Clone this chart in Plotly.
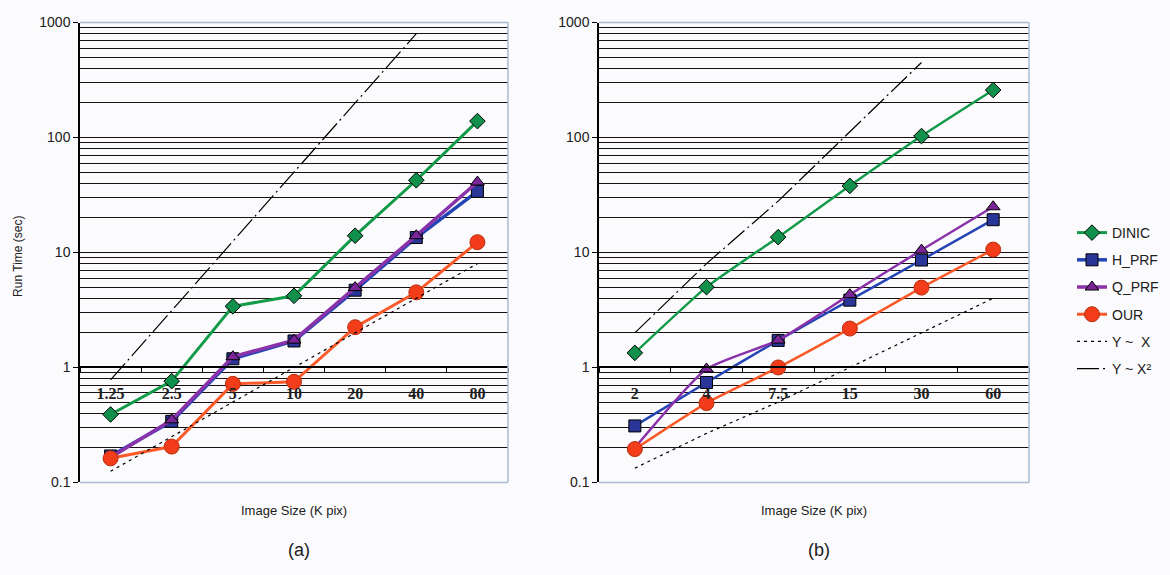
import plotly.graph_objects as go

# ---------------- data ----------------
sizes_a = ['1.25', '2.5', '5', '10', '20', '40', '80']
dinic_a = [0.39, 0.76, 3.4, 4.2, 14.0, 42.5, 139]
hprf_a = [0.17, 0.34, 1.19, 1.70, 4.7, 13.5, 34]
qprf_a = [0.165, 0.35, 1.24, 1.73, 4.95, 14.0, 41]
our_a = [0.162, 0.205, 0.72, 0.75, 2.24, 4.5, 12.3]
lin_a = [0.125, 0.25, 0.5, 1, 2, 4, 8]
quad_a = [0.78, 3.1, 12.5, 50, 200, 800, None]

sizes_b = ['2', '4', '7.5', '15', '30', '60']
dinic_b = [1.34, 5.0, 13.6, 38, 103, 259]
hprf_b = [0.31, 0.74, 1.72, 3.85, 8.6, 19.3]
qprf_b = [0.20, 0.97, 1.73, 4.3, 10.5, 25]
our_b = [0.195, 0.49, 1.0, 2.18, 4.95, 10.6]
lin_b = [0.133, 0.267, 0.5, 1, 2, 4]
quad_b = [2, 8, 28, 112, 450, None]

y_tickvals = [0.1, 1, 10, 100, 1000]
y_ticktext = ['0.1', '1', '10', '100', '1000']
y_minor = [m * d for d in (0.1, 1, 10, 100) for m in range(2, 10)] + [1, 10, 100]

names = ['DINIC', 'H_PRF', 'Q_PRF', 'OUR', 'Y ~\u00a0\u00a0X', 'Y ~ X\u00b2']

# ---------------- styles ----------------
W, H = 1170, 575
styles = [
    dict(line=dict(color='#129a48', width=3),
         marker=dict(symbol='diamond', size=12, color='#10904a', line=dict(color='black', width=1))),
    dict(line=dict(color='#2545b5', width=3.5),
         marker=dict(symbol='square', size=12, color='#2a3598', line=dict(color='black', width=1))),
    dict(line=dict(color='#8a32aa', width=3.5),
         marker=dict(symbol='triangle-up', size=12, color='#7a2698', line=dict(color='black', width=1))),
    dict(line=dict(color='#fa5a2a', width=3),
         marker=dict(symbol='circle', size=15, color='#f23c1a', line=dict(color='#b83010', width=1))),
    dict(line=dict(color='black', width=1.2, dash='3px,4px')),
    dict(line=dict(color='black', width=1.2, dash='22px,4px,2px,4px')),
]

fig = go.Figure()

panels = [
    (sizes_a, [dinic_a, hprf_a, qprf_a, our_a, lin_a, quad_a], 'x', 'y', True, 'linear'),
    (sizes_b, [dinic_b, hprf_b, qprf_b, our_b, lin_b, quad_b], 'x2', 'y2', False, 'spline'),
]
for cats, series, xa, ya, show, shape in panels:
    for i, (nm, vals) in enumerate(zip(names, series)):
        st = styles[i]
        mode = 'lines+markers' if 'marker' in st else 'lines'
        line = dict(st['line'])
        if shape == 'spline' and i < 4:
            line['width'] = 2.5
            line['shape'] = 'spline'
            line['smoothing'] = 0.5
        fig.add_trace(go.Scatter(
            x=cats, y=vals, name=nm, mode=mode, line=line,
            marker=st.get('marker'), xaxis=xa, yaxis=ya,
            showlegend=show, legendgroup=nm, connectgaps=False,
        ))

# ---------------- layout ----------------
y_dom = [1 - 488 / H, 1 - 15 / H]
xa_dom = [80 / W, 508 / W]
xb_dom = [599 / W, 1029 / W]
x_pos = y_dom[0] + 0.25 * (y_dom[1] - y_dom[0])  # value 1 on a 0.1..1000 log axis

grid_col = '#1a1010'


def xaxis(dom, cats):
    return dict(
        domain=dom, type='category', categoryorder='array', categoryarray=cats,
        range=[-0.5, len(cats) - 0.5], anchor='free', position=x_pos,
        showline=True, linecolor='black', linewidth=1.5,
        ticks='outside', ticklen=5, tickcolor='black', tickwidth=1,
        tickson='boundaries', showgrid=False, zeroline=False,
        tickfont=dict(family='Liberation Serif', size=16, color='#202020', weight='bold'),
        ticklabelstandoff=12,
    )


def yaxis(anchor):
    return dict(
        domain=y_dom, type='log', range=[-1, 3], anchor=anchor,
        showline=True, linecolor='black', linewidth=1.5,
        ticks='outside', ticklen=5, tickcolor='black',
        tickvals=y_tickvals, ticktext=y_ticktext,
        showgrid=True, gridcolor=grid_col, gridwidth=1.3,
        minor=dict(tickvals=y_minor, showgrid=True, gridcolor=grid_col, gridwidth=1.3, ticks=''),
        tickfont=dict(family='Liberation Sans', size=14, color='#202020'),
        zeroline=False,
    )


fig.update_layout(
    width=W, height=H, margin=dict(l=0, r=0, t=0, b=0),
    paper_bgcolor='#fbfbfd', plot_bgcolor='#fbfbfd',
    xaxis=xaxis(xa_dom, sizes_a), xaxis2=xaxis(xb_dom, sizes_b),
    yaxis=yaxis('x'), yaxis2=yaxis('x2'),
    legend=dict(x=1072 / W, y=1 - 215 / H, xanchor='left', yanchor='top',
                bgcolor='rgba(0,0,0,0)', tracegroupgap=6,
                font=dict(family='Liberation Sans', size=14, color='#202020')),
    showlegend=True,
)

border = '#a9bccf'
for xr, yr in (('x domain', 'y domain'), ('x2 domain', 'y2 domain')):
    for (x0, y0, x1, y1) in ((0, 1, 1, 1), (1, 0, 1, 1), (0, 0, 1, 0)):
        fig.add_shape(type='line', xref=xr, yref=yr, x0=x0, y0=y0, x1=x1, y1=y1,
                      line=dict(color=border, width=1.5), layer='above')

ann_font = dict(family='Liberation Sans', color='#202020')
fig.add_annotation(text='Run Time (sec)', x=18 / W, y=1 - 256 / H, xref='paper', yref='paper',
                   xanchor='center', yanchor='middle',
                   textangle=-90, showarrow=False, font=dict(size=12, **ann_font))
for cx, lab in (((xa_dom[0] + xa_dom[1]) / 2, '(a)'), ((xb_dom[0] + xb_dom[1]) / 2, '(b)')):
    fig.add_annotation(text='Image Size (K pix)', x=cx, y=1 - 517 / H, xref='paper', yref='paper',
                       xanchor='center', yanchor='middle',
                       showarrow=False, font=dict(size=13, **ann_font))
    fig.add_annotation(text=lab, x=cx + 5 / W, y=1 - 558 / H, xref='paper', yref='paper',
                       xanchor='center', yanchor='middle',
                       showarrow=False, font=dict(size=18, **ann_font))

fig.write_html('out.html')
